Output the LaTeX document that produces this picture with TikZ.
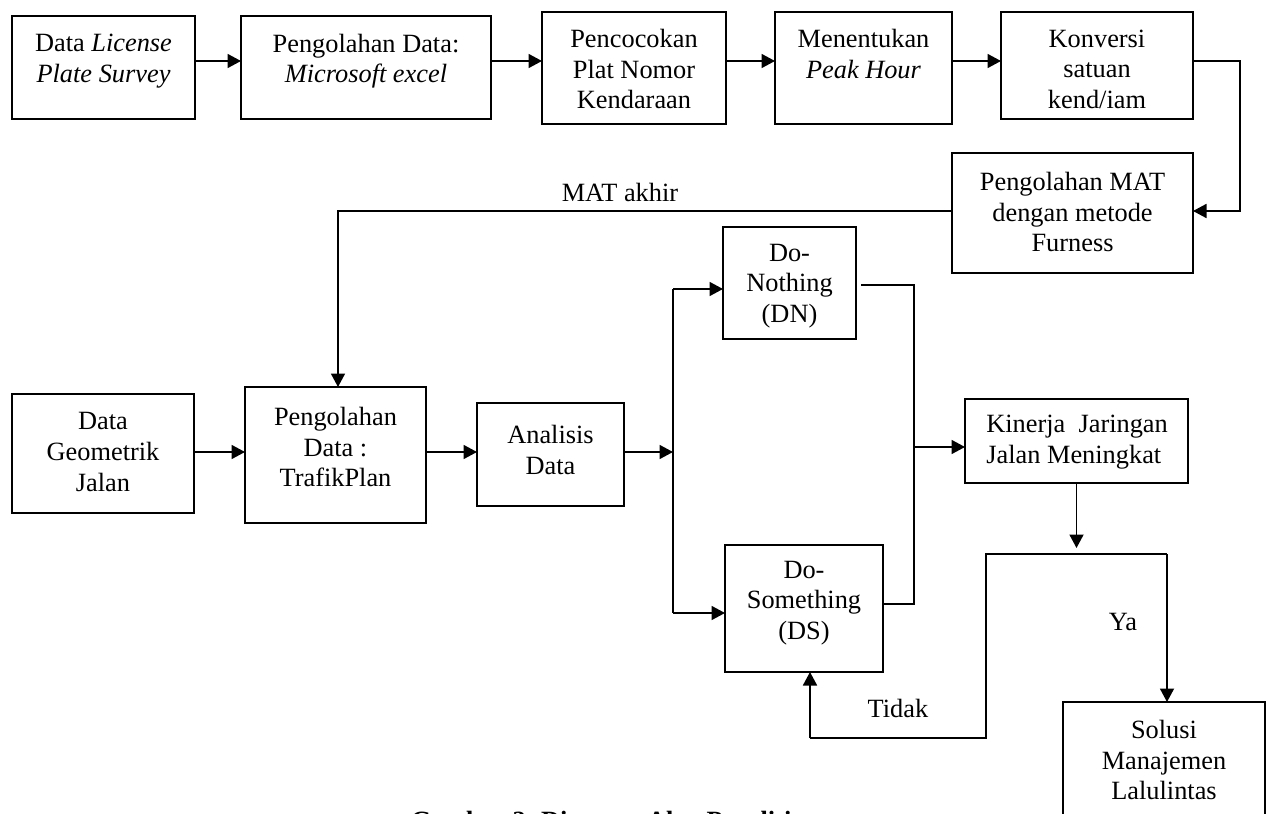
\documentclass[tikz,border=0pt]{standalone}
\usepackage{fontspec}
\setmainfont{Liberation Serif}
\usetikzlibrary{arrows.meta}
\newcommand{\mybox}[5]{%
  \node[boxst, minimum width={(#4-#2)*0.02cm}, minimum height={(#5-#3)*0.02cm}] (#1) at ({(#2+#4)/2},{(#3+#5)/2}) {};}
\tikzset{
  boxst/.style={draw=black, line width=0.95pt, inner sep=0pt, outer sep=0pt},
  txt/.style={align=center, inner sep=0pt, font=\fontsize{15}{17.4}\selectfont},
  arr/.style={line width=1pt, -{Triangle[length=0.27cm, width=0.28cm]}},
  ln/.style={line width=1pt},
}
\begin{document}
\begin{tikzpicture}[x=0.02cm, y=-0.02cm]
\useasboundingbox (0,0) rectangle (1267,814);
\clip (0,0) rectangle (1267,814);
% boxes
\mybox{b1}{12}{16}{195}{119}
\mybox{b2}{241}{16}{491}{119}
\mybox{b3}{542}{12}{726}{124}
\mybox{b4}{775}{12}{952}{124}
\mybox{b5}{1001}{12}{1193}{119}
\mybox{m}{952}{153}{1193}{273}
\mybox{b6}{12}{394}{194}{513}
\mybox{b7}{245}{387}{426}{523}
\mybox{b8}{477}{403}{624}{506}
\mybox{b9}{723}{227}{856}{339}
\mybox{b10}{725}{545}{883}{672}
\mybox{b11}{965}{399}{1188}{483}
\mybox{b12}{1063}{702}{1265}{850}
% texts
\node[txt] (t1) at (103.5,61) {Data \textit{License}\\\textit{Plate Survey}};
\node[txt] (t2) at (366,61) {Pengolahan Data:\\\textit{Microsoft excel}};
\node[txt] (t3) at (634,69) {Pencocokan\\Plat Nomor\\Kendaraan};
\node[txt] (t4) at (863.5,54) {Menentukan\\\textit{Peak Hour}};
\node[txt] (t5) at (1097,69) {Konversi\\satuan\\kend/iam};
\node[txt] (tm) at (1072.5,212) {Pengolahan MAT\\dengan metode\\Furness};
\node[txt] (t6) at (103,452) {Data\\Geometrik\\Jalan};
\node[txt] (t7) at (335.5,447) {Pengolahan\\Data :\\TrafikPlan};
\node[txt] (t8) at (550.5,450) {Analisis\\Data};
\node[txt] (t9) at (789.5,286) {Do-\\Nothing\\(DN)};
\node[txt] (t10) at (804,603) {Do-\\Something\\(DS)};
\node[txt, align=left, anchor=west] (t11) at (986,442) {Kinerja\ \ Jaringan\\Jalan Meningkat};
\node[txt] (t12) at (1164,760) {Solusi\\Manajemen\\Lalulintas};
\node[txt] (lmat) at (620,192) {MAT akhir};
\node[txt] (lya) at (1123,622) {Ya};
\node[txt] (ltd) at (898,708) {Tidak};
\node[txt, anchor=base, font=\fontsize{15}{17.4}\selectfont\bfseries] (cap) at (615,829) {Gambar 2. Diagram Alur Penelitian};
% coordinates
\coordinate (r1) at (0,61);
\coordinate (c1) at (1240,61);
\coordinate (c2) at (1240,211);
\coordinate (c3) at (338,211);
\coordinate (r2) at (0,452);
\coordinate (br) at (673,452);
\coordinate (brT) at (673,289);
\coordinate (brB) at (673,613);
\coordinate (mT) at (914,285);
\coordinate (mB) at (914,604);
\coordinate (mM) at (914,447);
\coordinate (dtip) at (1076.5,548);
\coordinate (jL) at (986,554);
\coordinate (jR) at (1167,554);
\coordinate (jB) at (986,738);
\coordinate (tA) at (810,738);
% top row
\draw[arr] (b1.east |- r1) -- (b2.west |- r1);
\draw[arr] (b2.east |- r1) -- (b3.west |- r1);
\draw[arr] (b3.east |- r1) -- (b4.west |- r1);
\draw[arr] (b4.east |- r1) -- (b5.west |- r1);
\draw[arr] (b5.east |- r1) -- (c1) -- (c2) -- (m.east |- c2);
\draw[arr] (m.west |- c2) -- (c3) -- (b7.north -| c3);
% second row
\draw[arr] (b6.east |- r2) -- (b7.west |- r2);
\draw[arr] (b7.east |- r2) -- (b8.west |- r2);
\draw[arr] (b8.east |- br) -- (br);
\draw[ln] (brT) -- (brB);
\draw[arr] (brT) -- (b9.west |- brT);
\draw[arr] (brB) -- (b10.west |- brB);
\draw[ln] ([xshift=0.1cm]b9.east |- mT) -- (mT) -- (mB) -- (b10.east |- mB);
\draw[arr] (mM) -- (b11.west |- mM);
\draw[arr] (b11.south) -- (dtip);
\draw[ln] (jR) -- (jL) -- (jB) -- (tA);
\draw[arr] (tA) -- (b10.south -| tA);
\draw[arr] (jR) -- (b12.north -| jR);
\end{tikzpicture}
\end{document}
